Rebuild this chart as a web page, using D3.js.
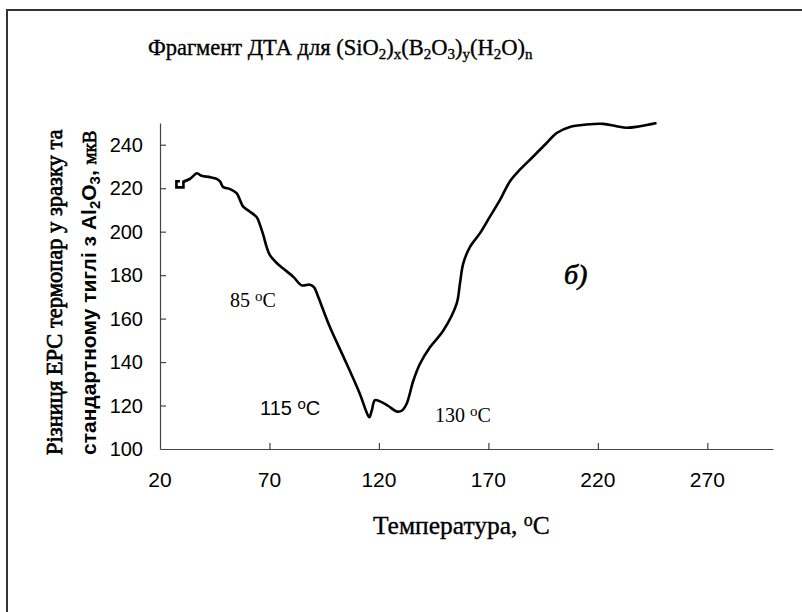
<!DOCTYPE html>
<html>
<head>
<meta charset="utf-8">
<script src="https://cdn.jsdelivr.net/npm/d3@7"></script>
<style>
  body { margin: 0; background: #fff; }
  .serif { font-family: "Liberation Serif", "Times New Roman", serif; }
  .sans { font-family: "Liberation Sans", Arial, sans-serif; }
  .heavy { stroke: #000; stroke-width: 0.7px; }
  .semi { stroke: #000; stroke-width: 0.35px; }
</style>
</head>
<body>
<svg id="chart" width="802" height="612"></svg>
<script>
// temperature (°C) and DTA signal (мкВ)
var temps = [29.1, 27.5, 27.5, 30.7, 30.7, 33.7, 36.8, 37.5, 39.0, 42.8, 45.9, 47.4, 48.9, 52.0,
  55.0, 56.5, 58.0, 61.1, 64.2, 65.7, 67.2, 68.7, 70.2, 73.3, 76.3, 80.9, 84.7, 88.5, 90.3,
  92.3, 94.6, 97.6, 105.3, 111.3, 114.4, 115.6, 116.7, 118.2, 120.5, 124.1, 128.1, 130.4,
  132.6, 135.7, 138.7, 143.3, 149.4, 155.5, 157.0, 158.5, 161.6, 166.1, 170.7, 175.3, 179.8,
  184.4, 190.5, 196.6, 201.2, 207.2, 214.8, 222.4, 228.5, 233.1, 239.2, 246.8];
var signal = [223.2, 223.2, 220.4, 220.4, 223.0, 224.3, 226.9, 226.6, 225.7, 225.1, 224.3, 223.1,
  220.5, 219.6, 217.7, 214.6, 211.5, 209.2, 206.6, 203.0, 198.4, 193.0, 189.2, 185.6, 183.0,
  179.2, 175.3, 175.6, 174.5, 169.9, 163.8, 156.1, 139.1, 125.3, 116.8, 114.6, 117.6, 122.5,
  121.9, 119.9, 117.3, 117.6, 120.7, 131.4, 139.1, 146.8, 154.5, 166.9, 176.1, 185.3, 193.0,
  199.2, 206.9, 214.6, 223.1, 228.5, 234.6, 240.8, 245.4, 248.2, 249.3, 249.6, 248.5, 247.8,
  248.5, 250.0];

var xTicks = [20, 70, 120, 170, 220, 270];
var yTicks = [100, 120, 140, 160, 180, 200, 220, 240];

var svg = d3.select("#chart");

// outer frame (only left and top edges are visible in the picture)
svg.append("rect")
    .attr("x", 7).attr("y", 10)
    .attr("width", 820).attr("height", 640)
    .attr("fill", "none")
    .attr("stroke", "#333")
    .attr("stroke-width", 2);

var x = d3.scaleLinear().domain([20, 300]).range([160, 773]);
var y = d3.scaleLinear().domain([100, 250]).range([449, 123]);

svg.append("g")
    .attr("transform", "translate(0," + y(100) + ")")
    .call(d3.axisBottom(x).tickValues(xTicks.slice(1)).tickSizeInner(-6).tickSizeOuter(0).tickFormat(""));
svg.append("g")
    .attr("transform", "translate(" + x(20) + ",0)")
    .call(d3.axisLeft(y).tickValues(yTicks.slice(1)).tickSizeInner(-6).tickSizeOuter(0).tickFormat(""));
svg.selectAll(".domain, .tick line").attr("stroke", "#444").attr("stroke-width", 1.2);

// tick labels
svg.selectAll(".xlab")
  .data(xTicks)
  .enter().append("text")
    .attr("class", "sans")
    .attr("x", function(d) { return x(d); })
    .attr("y", 487)
    .attr("text-anchor", "middle")
    .style("font-size", "21px")
    .text(function(d) { return d; });

svg.selectAll(".ylab")
  .data(yTicks)
  .enter().append("text")
    .attr("class", "sans")
    .attr("x", 143)
    .attr("y", function(d) { return y(d); })
    .attr("dy", "0.36em")
    .attr("text-anchor", "end")
    .style("font-size", "20px")
    .text(function(d) { return d; });

var line = d3.line()
    .x(function(i) { return x(temps[i]); })
    .y(function(i) { return y(signal[i]); });

// the little step at the start is drawn straight, the rest smoothed
var idx = d3.range(temps.length);
svg.append("path")
    .datum(idx.slice(0, 6))
    .attr("d", line.curve(d3.curveLinear))
    .attr("fill", "none")
    .attr("stroke", "#000")
    .attr("stroke-width", 2.6)
    .attr("stroke-linejoin", "miter");
svg.append("path")
    .datum(idx.slice(4))
    .attr("d", line.curve(d3.curveCatmullRom.alpha(0.5)))
    .attr("fill", "none")
    .attr("stroke", "#000")
    .attr("stroke-width", 2.6)
    .attr("stroke-linejoin", "round");

// title
var title = svg.append("text")
    .attr("class", "serif semi")
    .attr("x", 148).attr("y", 55)
    .style("font-size", "22.5px");
function sub(t, s) {
  t.append("tspan").attr("baseline-shift", "-28%").style("font-size", "15px").text(s);
}
title.append("tspan").text("Фрагмент ДТА для (SiO");
sub(title, "2");
title.append("tspan").text(")");
sub(title, "x");
title.append("tspan").text("(B");
sub(title, "2");
title.append("tspan").text("O");
sub(title, "3");
title.append("tspan").text(")");
sub(title, "y");
title.append("tspan").text("(H");
sub(title, "2");
title.append("tspan").text("O)");
sub(title, "n");

// y axis title (two rotated lines)
svg.append("text")
    .attr("class", "serif heavy")
    .attr("transform", "translate(62,455) rotate(-90)")
    .style("font-size", "22.5px")
    .text("Різниця ЕРС термопар у зразку та");

var yt2 = svg.append("text")
    .attr("class", "sans")
    .attr("transform", "translate(96,455) rotate(-90)")
    .style("font-size", "21px")
    .style("font-weight", "bold");
yt2.append("tspan").text("стандартному тиглі з Al");
yt2.append("tspan").attr("baseline-shift", "-25%").style("font-size", "15px").text("2");
yt2.append("tspan").text("O");
yt2.append("tspan").attr("baseline-shift", "-25%").style("font-size", "15px").text("3");
yt2.append("tspan").text(",    ");
yt2.append("tspan").attr("class", "serif heavy").style("font-weight", "normal").style("font-size", "19px").text("мкВ");

// x axis title
var xt = svg.append("text")
    .attr("class", "serif semi")
    .attr("x", 373).attr("y", 534)
    .style("font-size", "25.5px")
    .text("Температура, ");
xt.append("tspan").attr("baseline-shift", "42%").style("font-size", "18px").text("o");
xt.append("tspan").attr("baseline-shift", "0%").text("C");

// peak annotations
function degLabel(cls, px, py, num, size) {
  var t = svg.append("text")
      .attr("class", cls)
      .attr("x", px).attr("y", py)
      .style("font-size", size + "px")
      .text(num + " ");
  t.append("tspan").attr("baseline-shift", "42%").style("font-size", (size * 0.75) + "px").text("o");
  t.append("tspan").attr("baseline-shift", "0%").text("C");
}
degLabel("serif", 230, 307, "85", 20);
degLabel("sans", 260, 415, "115", 20);
degLabel("serif", 435, 422, "130", 20);

svg.append("text")
    .attr("class", "serif heavy")
    .attr("x", 564).attr("y", 284)
    .style("font-size", "28px")
    .style("font-style", "italic")
    .text("б)");
</script>
</body>
</html>
